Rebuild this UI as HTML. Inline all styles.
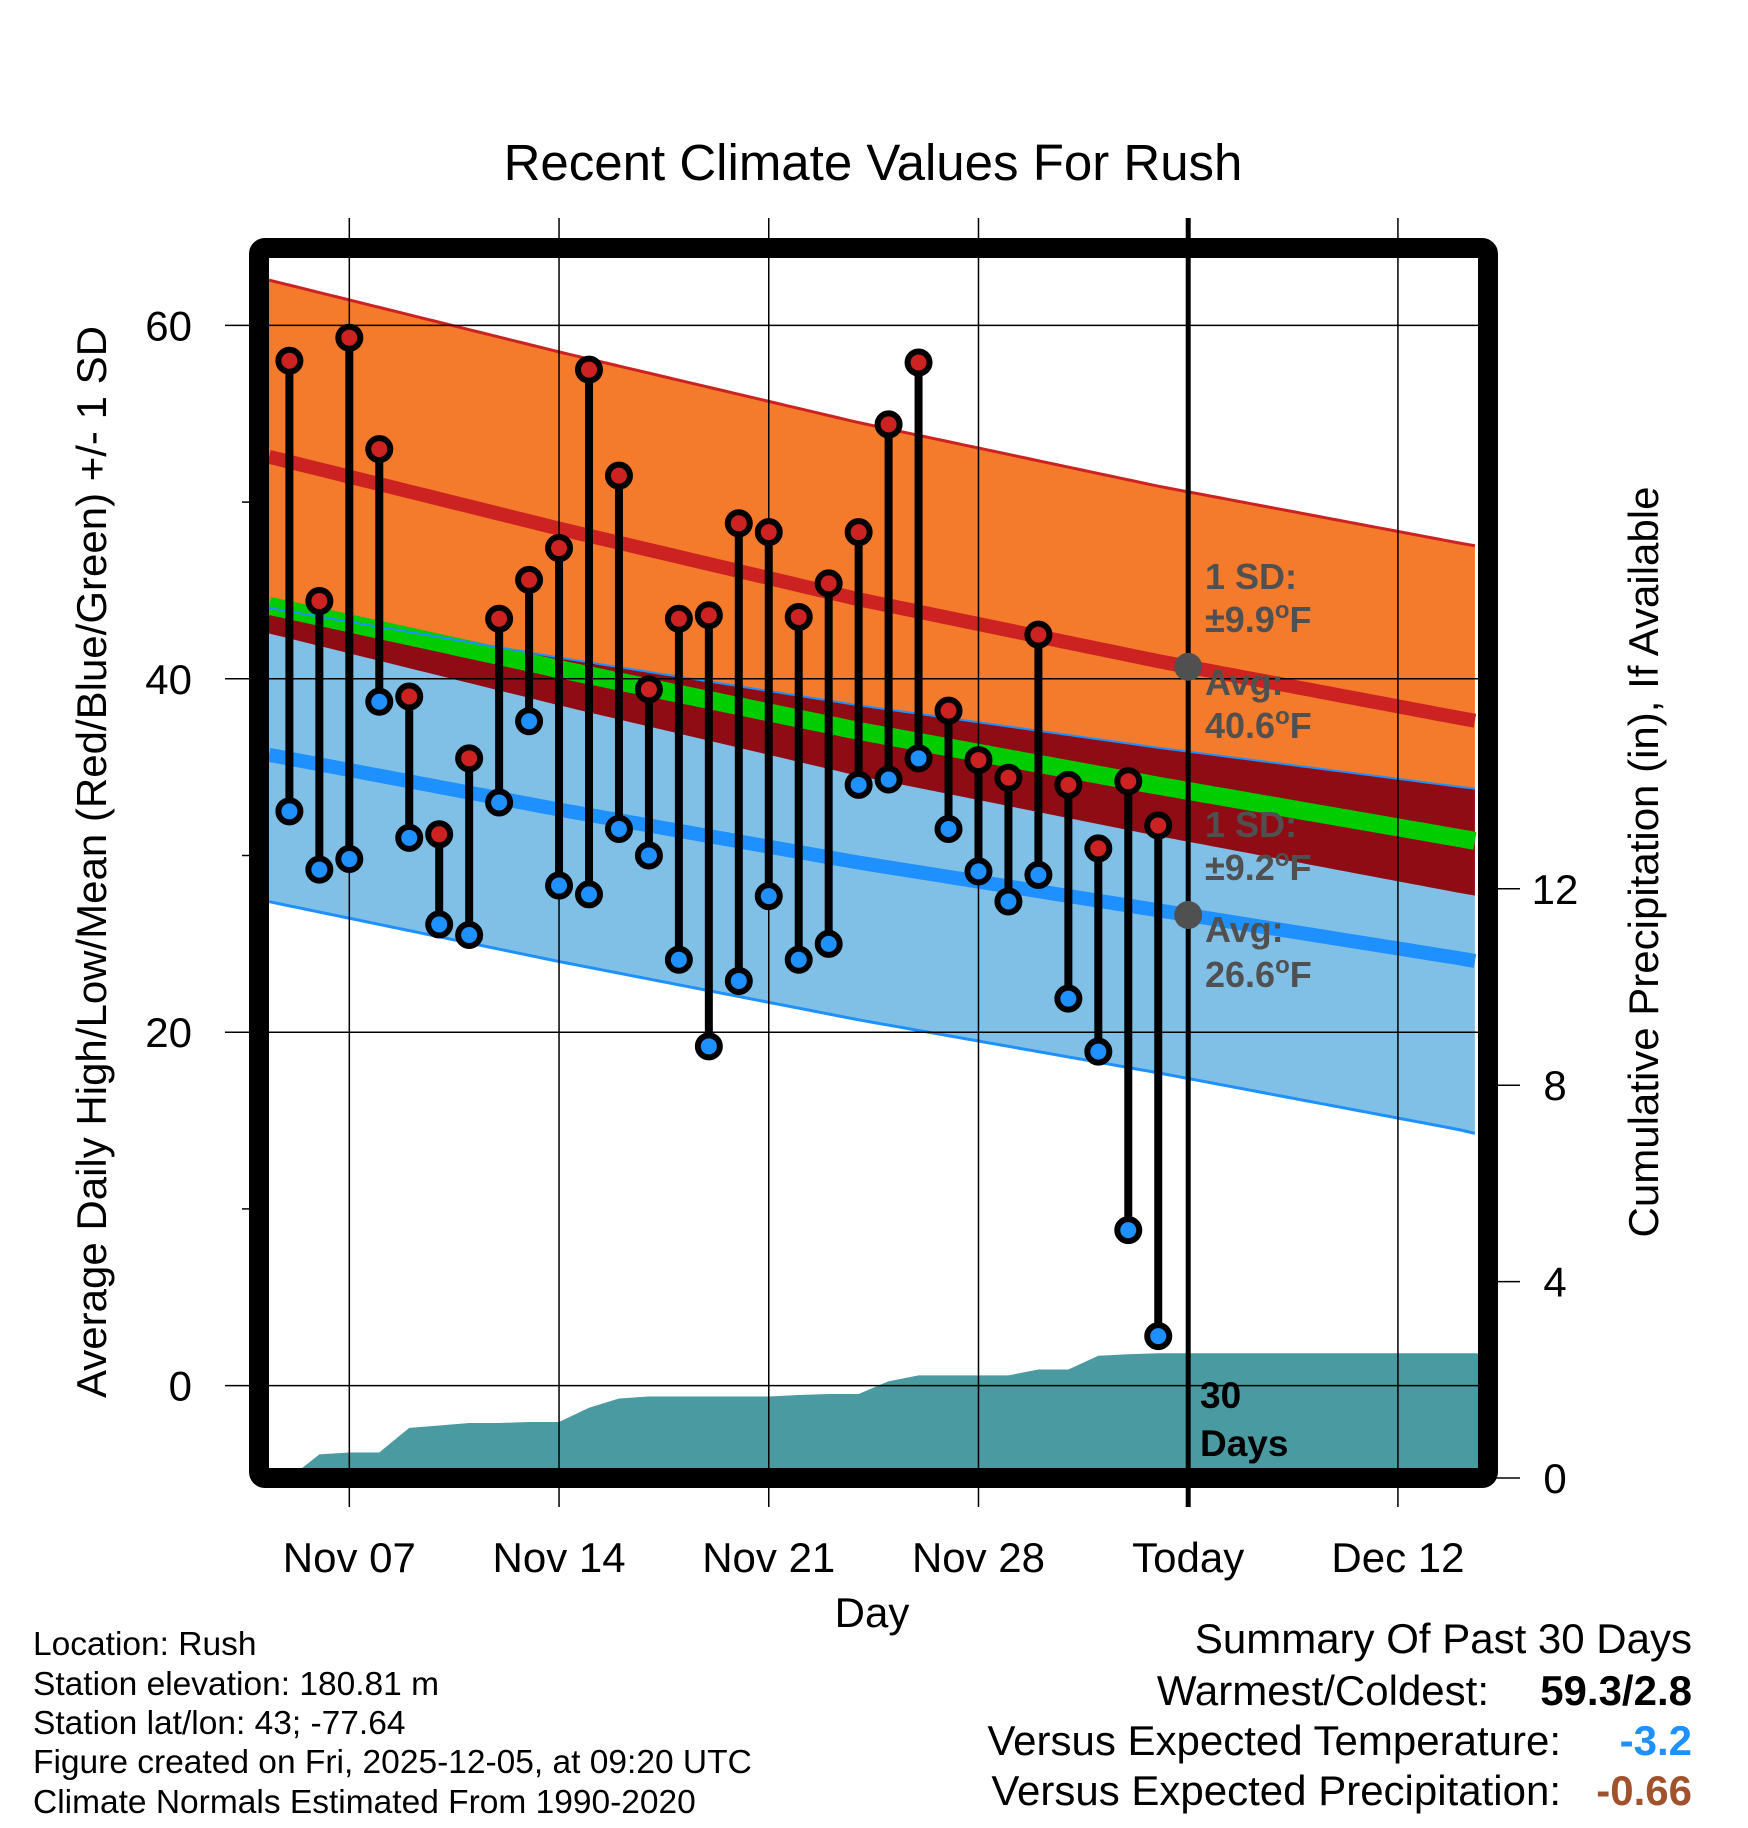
<!DOCTYPE html>
<html><head><meta charset="utf-8"><style>
html,body{margin:0;padding:0;background:#fff;}
svg{display:block;font-family:"Liberation Sans",sans-serif;}
</style></head><body>
<svg id="chart" width="1748" height="1828" viewBox="0 0 1748 1828" xmlns="http://www.w3.org/2000/svg">
<text x="873" y="180" font-size="51" text-anchor="middle">Recent Climate Values For Rush</text>
<g id="plot"></g>
<g id="axes"></g>
<text transform="translate(106,862) rotate(-90)" font-size="42" text-anchor="middle">Average Daily High/Low/Mean (Red/Blue/Green) +/- 1 SD</text>
<text transform="translate(1658,862) rotate(-90)" font-size="42" text-anchor="middle">Cumulative Precipitation (in), If Available</text>
<text x="872" y="1627" font-size="42" text-anchor="middle">Day</text>
<g font-size="33.5">
<text x="33" y="1655">Location: Rush</text>
<text x="33" y="1695">Station elevation: 180.81 m</text>
<text x="33" y="1734">Station lat/lon: 43; -77.64</text>
<text x="33" y="1773">Figure created on Fri, 2025-12-05, at 09:20 UTC</text>
<text x="33" y="1813">Climate Normals Estimated From 1990-2020</text>
</g>
<g font-size="42">
<text x="1692" y="1653" text-anchor="end">Summary Of Past 30 Days</text>
<text x="1489" y="1705" text-anchor="end">Warmest/Coldest:</text>
<text x="1692" y="1705" text-anchor="end" font-weight="bold">59.3/2.8</text>
<text x="1561" y="1755" text-anchor="end">Versus Expected Temperature:</text>
<text x="1692" y="1755" text-anchor="end" font-weight="bold" fill="#1e90ff">-3.2</text>
<text x="1561" y="1805" text-anchor="end">Versus Expected Precipitation:</text>
<text x="1692" y="1805" text-anchor="end" font-weight="bold" fill="#a0522d">-0.66</text>
</g>
</svg>
<script>
// day index 0 = Nov 05
const days = ["Nov 05","Nov 06","Nov 07","Nov 08","Nov 09","Nov 10","Nov 11","Nov 12","Nov 13","Nov 14","Nov 15","Nov 16","Nov 17","Nov 18","Nov 19","Nov 20","Nov 21","Nov 22","Nov 23","Nov 24","Nov 25","Nov 26","Nov 27","Nov 28","Nov 29","Nov 30","Dec 01","Dec 02","Dec 03","Dec 04"];
const highs = [58.0,44.4,59.3,53.0,39.0,31.2,35.5,43.4,45.6,47.4,57.5,51.5,39.4,43.4,43.6,48.8,48.3,43.5,45.4,48.3,54.4,57.9,38.2,35.4,34.4,42.5,34.0,30.4,34.2,31.7];
const lows = [32.5,29.2,29.8,38.7,31.0,26.1,25.5,33.0,37.6,28.3,27.8,31.5,30.0,24.1,19.2,22.9,27.7,24.1,25.0,34.0,34.3,35.5,31.5,29.1,27.4,28.9,21.9,18.9,8.8,2.8];
const precip = [0,0.48,0.52,0.52,1.02,1.07,1.12,1.12,1.14,1.14,1.43,1.62,1.66,1.66,1.66,1.66,1.66,1.69,1.71,1.71,1.97,2.09,2.09,2.09,2.09,2.21,2.21,2.49,2.52,2.54];
// normals at day offsets
const normDays = [-1,9,19,29,39,40];
const normHigh = [52.7,48.5,44.5,41.0,37.8,37.5];
const highSD = [10,10,10,9.9,9.9,9.9];
const normLow = [35.8,32.6,29.6,26.9,24.2,23.9];
const lowSD = [8.3,8.6,8.9,9.2,9.7,9.8];
const xTickDays = [2,9,16,23,30,37];
const xTickLabels = ["Nov 07","Nov 14","Nov 21","Nov 28","Today","Dec 12"];
const yTicks = [0,20,40,60];
const yMinor = [10,30,50];
const y2Ticks = [0,4,8,12];

const NS="http://www.w3.org/2000/svg";
const X0=289.4, DX=29.96;
const L=269, R=1478, T=258, B=1468;
const xs=d=>X0+d*DX;
const ys=v=>1385.6-v*17.67;
const yp=p=>1478-p*49.1;
const dL=(L-X0)/DX, dR=(R-X0)/DX;
function interp(arr,d){for(let i=0;i<normDays.length-1;i++){if(d<=normDays[i+1]||i==normDays.length-2){const t=(d-normDays[i])/(normDays[i+1]-normDays[i]);return arr[i]+t*(arr[i+1]-arr[i]);}}}
function mk(tag,attrs,parent){const e=document.createElementNS(NS,tag);for(const k in attrs)e.setAttribute(k,attrs[k]);parent.appendChild(e);return e;}
const plot=document.getElementById('plot'), axes=document.getElementById('axes');
const clip=mk('clipPath',{id:'pc'},plot);mk('rect',{x:L,y:T,width:R-L,height:B-T},clip);
const g=mk('g',{'clip-path':'url(#pc)'},plot);
const samples=[];for(let d=dL;d<=dR+0.001;d+=0.25)samples.push(d);
function curve(f){return samples.map(d=>[xs(d),ys(f(d))]);}
const hiU=d=>interp(normHigh,d)+interp(highSD,d), hiD=d=>interp(normHigh,d)-interp(highSD,d);
const loU=d=>interp(normLow,d)+interp(lowSD,d), loD=d=>interp(normLow,d)-interp(lowSD,d);
function band(fu,fd,fill,name){const a=curve(fu),b=curve(fd).reverse();const p=mk('polygon',{points:a.concat(b).map(q=>q.join(',')).join(' '),fill:fill},g);

}
function line(f,col,w,name){const p=mk('polyline',{points:curve(f).map(q=>q.join(',')).join(' '),fill:'none',stroke:col,'stroke-width':w},g);

}
band(hiU,hiD,'#f47a2c','high-sd-band');
band(loU,loD,'#80c0e6','low-sd-band');
band(d=>Math.min(hiU(d),loU(d)),hiD,'#900c14','overlap-band');
line(d=>(interp(normHigh,d)+interp(normLow,d))/2,'#00cc00',18,'normal-mean-line');
line(d=>interp(normHigh,d),'#cc2222',14,'normal-high-line');
line(d=>interp(normLow,d),'#1e90ff',14,'normal-low-line');
line(hiU,'#cc2222',3,'high-plus-sd-line');
line(loD,'#1e90ff',3,'low-minus-sd-line');
line(loU,'#1e90ff',2,'low-plus-sd-line');
let pts=[[L,yp(0)],[xs(0),yp(precip[0])]];
precip.forEach((p,i)=>pts.push([xs(i),yp(p)]));
pts.push([R,yp(precip[precip.length-1])],[R,B+5],[L,B+5]);
const pa=mk('polygon',{points:pts.map(q=>q.join(',')).join(' '),fill:'#4a9aa2'},g);


xTickDays.forEach((d,i)=>{const gl=mk('line',{x1:xs(d),x2:xs(d),y1:218,y2:1507,stroke:'#000','stroke-width':i==4?5:1.5},plot);


const t=mk('text',{x:xs(d),y:1572,'font-size':42,'text-anchor':'middle'},axes);t.textContent=xTickLabels[i];

});
yTicks.forEach(v=>{const gl=mk('line',{x1:225,x2:R,y1:ys(v),y2:ys(v),stroke:'#000','stroke-width':1.5},plot);


const t=mk('text',{x:192,y:ys(v)+15,'font-size':42,'text-anchor':'end'},axes);t.textContent=v;

});
yMinor.forEach(v=>{const gl=mk('line',{x1:242,x2:252,y1:ys(v),y2:ys(v),stroke:'#000','stroke-width':1.5},plot);

});
y2Ticks.forEach(p=>{const gl=mk('line',{x1:1495,x2:1520,y1:yp(p),y2:yp(p),stroke:'#000','stroke-width':1.5},plot);


const t=mk('text',{x:1555,y:yp(p)+15,'font-size':42,'text-anchor':'middle'},axes);t.textContent=p;

});
highs.forEach((h,i)=>{const x=xs(i);
const s=mk('line',{x1:x,x2:x,y1:ys(h),y2:ys(lows[i]),stroke:'#000','stroke-width':8},plot);


const c1=mk('circle',{cx:x,cy:ys(h),r:11,fill:'#cc2222',stroke:'#000','stroke-width':6},plot);


const c2=mk('circle',{cx:x,cy:ys(lows[i]),r:11,fill:'#1e90ff',stroke:'#000','stroke-width':6},plot);

});
const tx=xs(30);
[[interp(normHigh,30)],[interp(normLow,30)]].forEach(v=>{const c=mk('circle',{cx:tx,cy:ys(v[0]),r:14,fill:'#505050'},plot);

});
const ann=[["1 SD:",589,""],["±9.9",632,"F"],["Avg:",695,""],["40.6",738,"F"],["1 SD:",837,""],["±9.2",880,"F"],["Avg:",942,""],["26.6",987,"F"]];
ann.forEach(a=>{const t=mk('text',{x:1205,y:a[1],'font-size':36,'font-weight':'bold',fill:'#505050'},plot);
t.appendChild(document.createTextNode(a[0]));
if(a[2]){const s=mk('tspan',{'font-size':24,dy:-14},t);s.textContent='o';const f=mk('tspan',{dy:14},t);f.textContent=a[2];}

});
[["30",1408],["Days",1456]].forEach(a=>{const t=mk('text',{x:1200,y:a[1],'font-size':37,'font-weight':'bold',fill:'#000'},plot);t.textContent=a[0];

});
const fr=mk('rect',{x:259,y:248,width:1229,height:1230,rx:6,fill:'none',stroke:'#000','stroke-width':20},plot);


</script>
</body></html>
